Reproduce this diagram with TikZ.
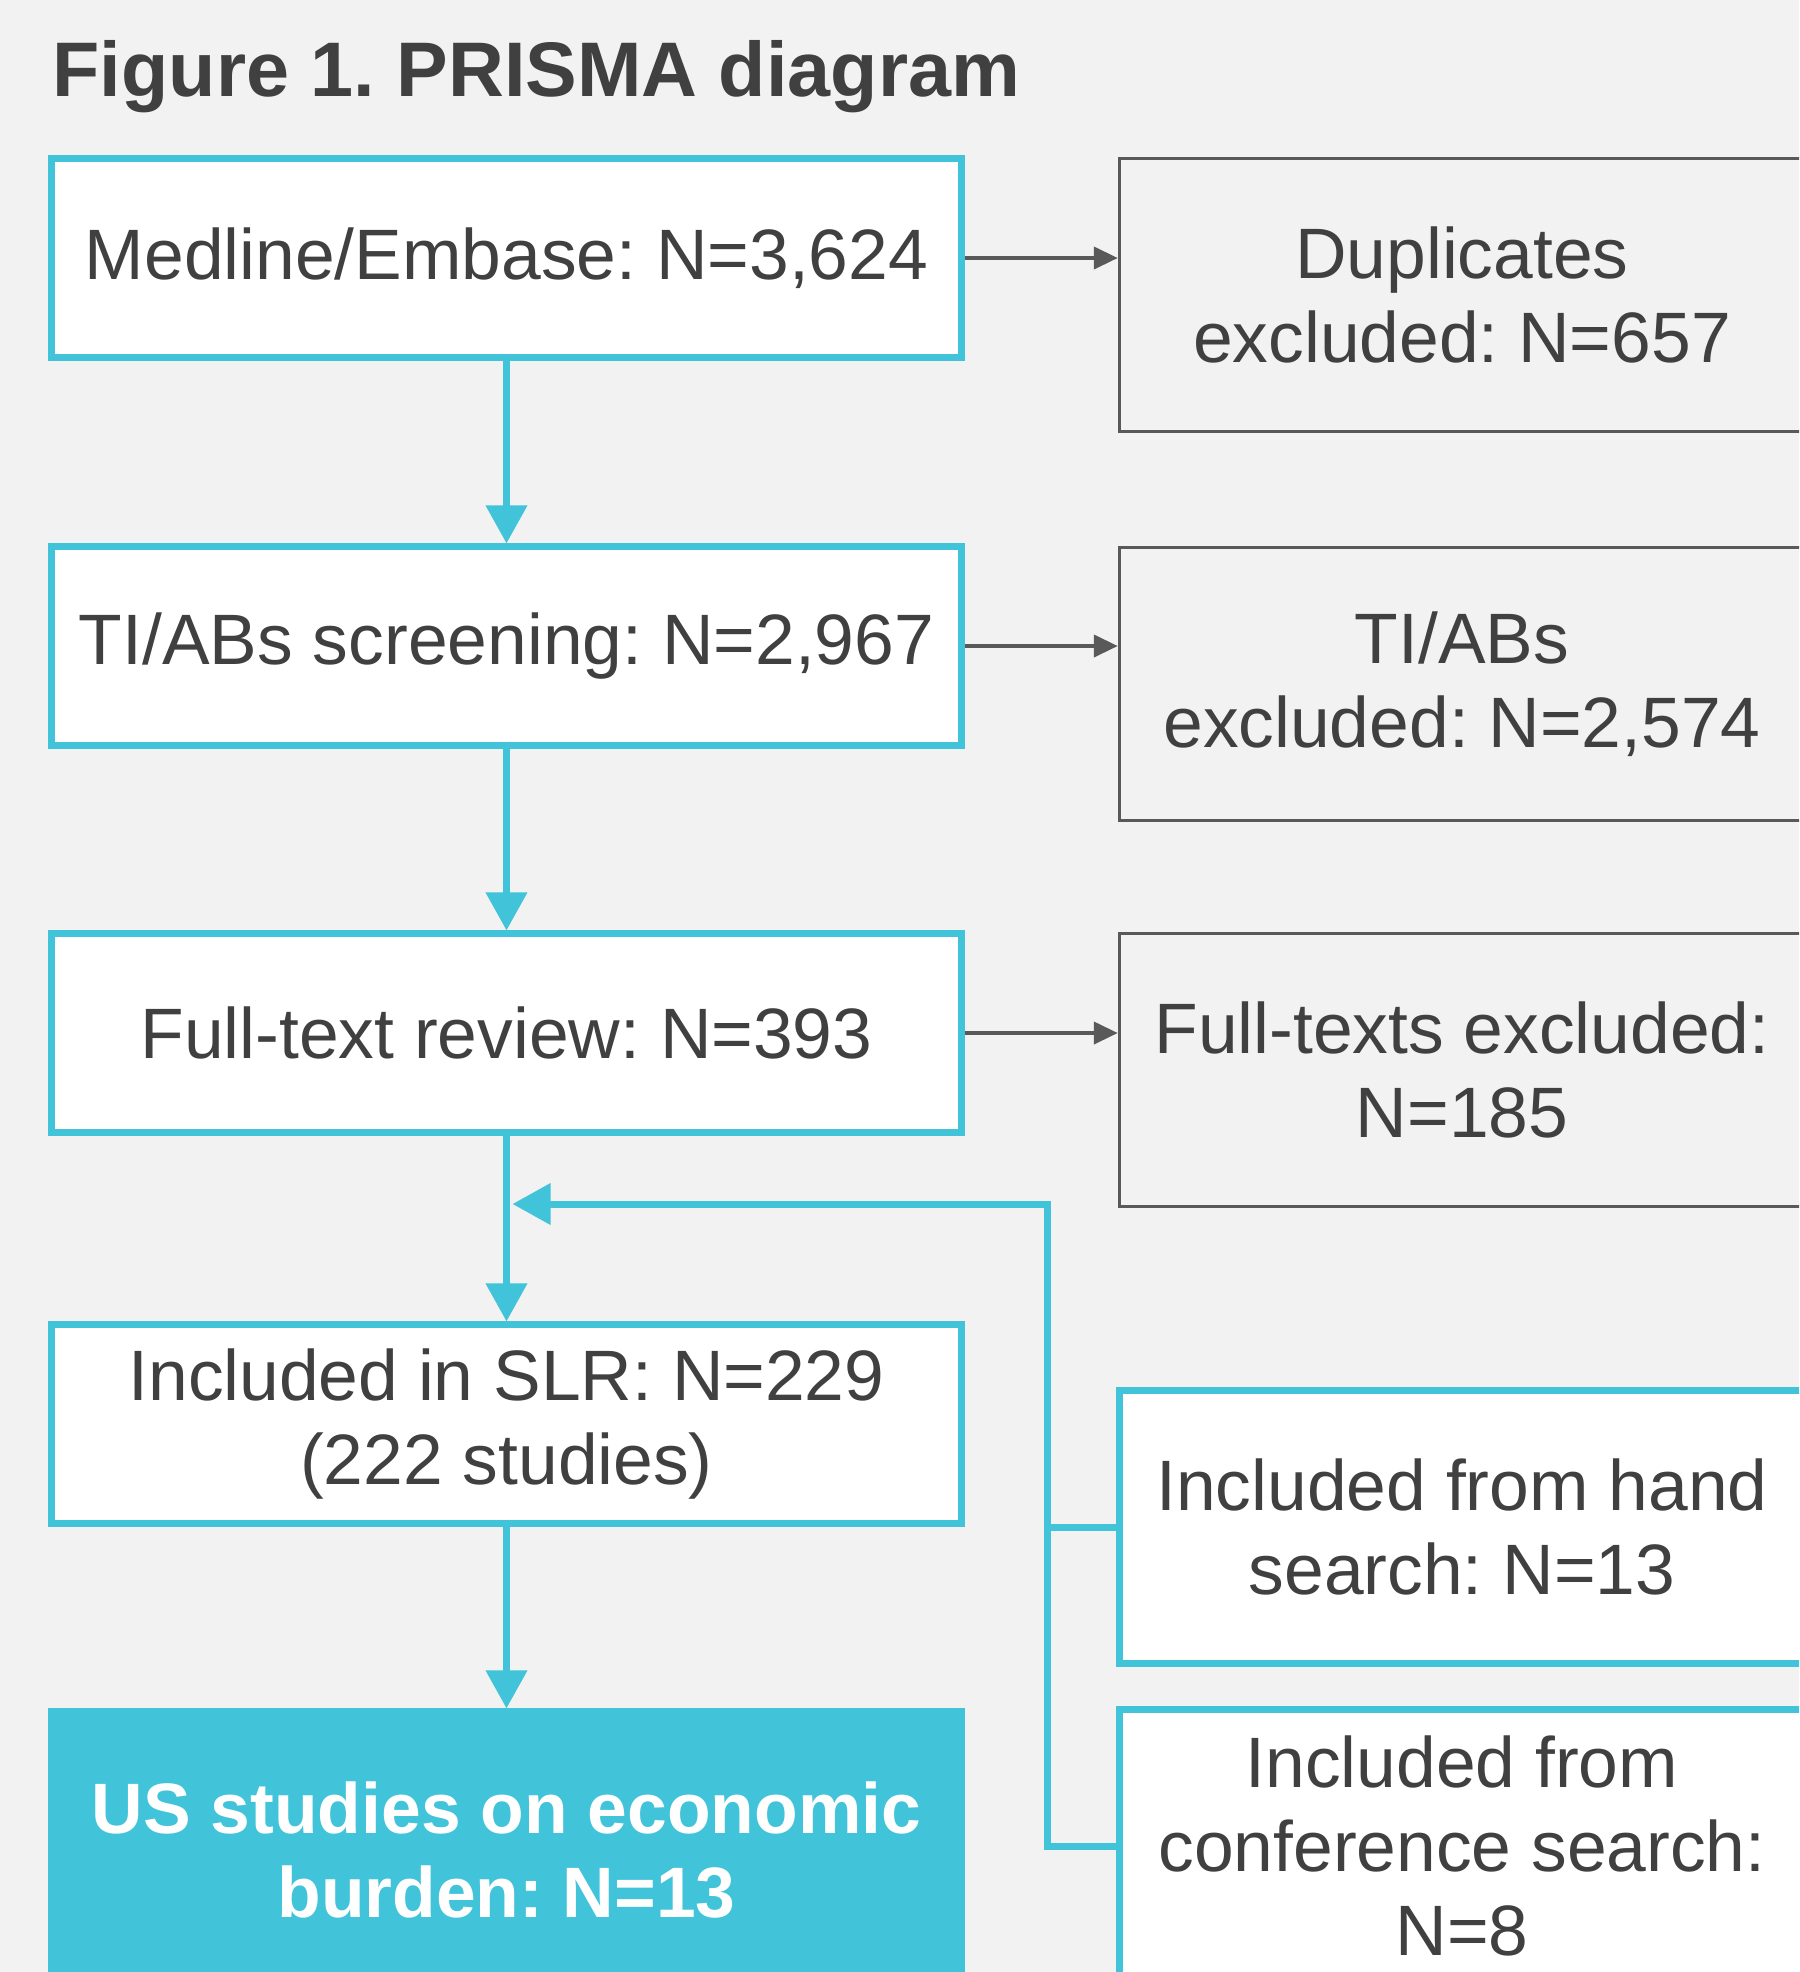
\documentclass[tikz,border=0pt]{standalone}
\usepackage{fontspec}
\setmainfont{Liberation Sans}
\usetikzlibrary{arrows.meta}

\definecolor{prismacyan}{HTML}{41C3D9}
\definecolor{prismagray}{HTML}{404040}
\definecolor{prismaback}{HTML}{F2F2F2}
\definecolor{prismaedge}{HTML}{595959}

\frenchspacing

\begin{document}
\begin{tikzpicture}[x=0.01cm,y=-0.01cm,
  every node/.style={font=\fontsize{20.3}{24}\selectfont,text=prismagray,align=center,inner sep=0pt},
  mainbox/.style={draw=prismacyan,line width=0.07cm,fill=white,minimum width=9.10cm,minimum height=1.98cm},
  exclbox/.style={draw=prismaedge,line width=0.03cm,minimum width=6.85cm,minimum height=2.73cm},
  addbox/.style={draw=prismacyan,line width=0.07cm,fill=white,minimum width=6.85cm,minimum height=2.73cm},
  flow/.style={prismacyan,line width=0.07cm,-{Triangle[length=0.38cm,width=0.40cm]}},
  excl/.style={prismaedge,line width=0.04cm,-{Triangle[length=0.24cm,width=0.22cm]}}]

% Page
\useasboundingbox (0,0) rectangle (1799,1972);
\clip (0,0) rectangle (1799,1972);
\fill[prismaback] (0,0) rectangle (1799,1972);

\node[anchor=base west,font=\bfseries\fontsize{22}{26}\selectfont] (title) at (52,96) {Figure 1. PRISMA diagram};

% Main flow
\node[mainbox] (med) at (506.5,258) {Medline/Embase: N=3,624};
\node[mainbox] (screen) at (506.5,646) {TI/ABs screening: N=2,967};
\node[mainbox] (full) at (506.5,1033) {Full-text review: N=393};
\node[mainbox] (slr) at (506.5,1424) {Included in SLR: N=229\\(222 studies)};
\node[mainbox,fill=prismacyan,text=white,font=\bfseries\fontsize{20.3}{24}\selectfont,minimum height=2.76cm] (us) at (506.5,1850) {US studies on economic\\burden: N=13};

% Exclusions
\node[exclbox] (dup) at (1462,295) {Duplicates\\excluded: N=657};
\node[exclbox] (tiex) at (1462,684) {TI/ABs\\excluded: N=2,574};
\node[exclbox] (ftex) at (1462,1070) {Full-texts excluded:\\N=185};

% Extra sources
\node[addbox] (hand) at (1462,1527) {Included from hand\\search: N=13};
\node[addbox] (conf) at (1462,1846) {Included from\\conference search:\\N=8};

% Arrows down
\draw[flow] (med) -- (screen);
\draw[flow] (screen) -- (full);
\draw[flow] (full) -- (slr);
\draw[flow] (slr) -- (us);

% Arrows to exclusions
\draw[excl] (med.east) -- (med.east -| dup.west);
\draw[excl] (screen.east) -- (screen.east -| tiex.west);
\draw[excl] (full.east) -- (full.east -| ftex.west);

% Extra sources back into the flow
\coordinate (fb) at (1047,1204);
\draw[prismacyan,line width=0.07cm] (hand.west) -- (hand.west -| fb);
\draw[flow] (conf.west) -| (fb) -- ([xshift=0.06cm]fb -| full.south);

\end{tikzpicture}
\end{document}
